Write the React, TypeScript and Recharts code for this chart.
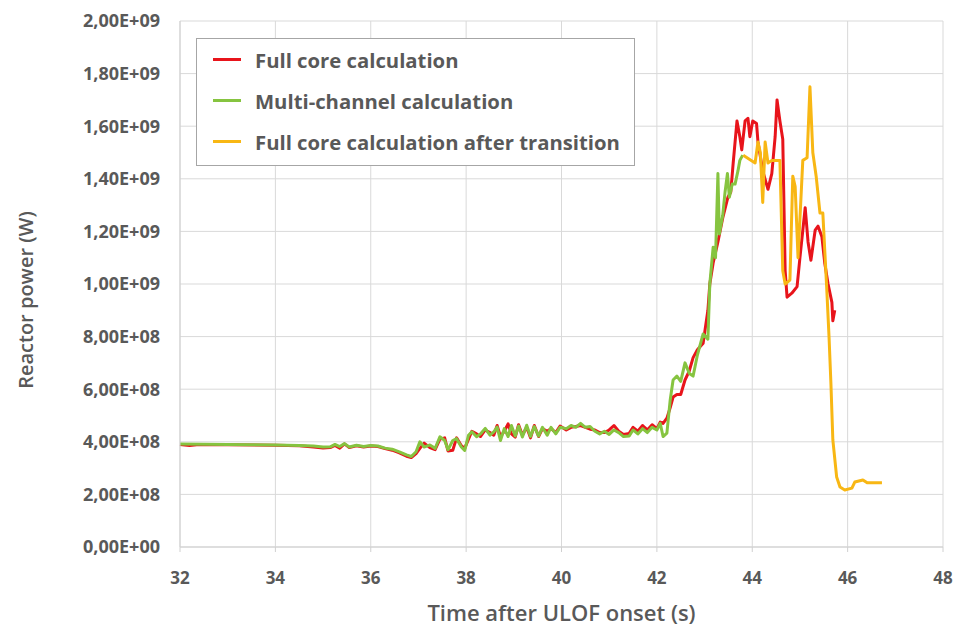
import React from "react";
import {
  LineChart,
  Line,
  XAxis,
  YAxis,
  CartesianGrid,
  Legend,
} from "recharts";

// power values are in units of 1e8 W
const fullCoreTime = [
  32.0, 32.2, 32.4, 33.0, 34.0, 34.5, 34.8, 35.0, 35.15, 35.25, 35.35, 35.45, 35.55, 35.7, 35.85,
  36.0, 36.15, 36.3, 36.45, 36.6, 36.75, 36.85, 36.95, 37.03, 37.12, 37.24, 37.35, 37.45, 37.55,
  37.62, 37.72, 37.8, 37.9, 37.97, 38.05, 38.12, 38.22, 38.3, 38.4, 38.5, 38.58, 38.65, 38.72,
  38.8, 38.88, 38.95, 39.03, 39.1, 39.18, 39.27, 39.35, 39.43, 39.52, 39.6, 39.7, 39.78, 39.88,
  39.97, 40.1, 40.2, 40.3, 40.4, 40.5, 40.6, 40.7, 40.8, 40.9, 41.0, 41.1, 41.2, 41.3, 41.42,
  41.5, 41.6, 41.7, 41.8, 41.9, 42.0, 42.07, 42.13, 42.21, 42.28, 42.34, 42.42, 42.5, 42.59,
  42.68, 42.76, 42.85, 42.97, 43.07, 43.11, 43.18, 43.28, 43.38, 43.49, 43.55, 43.6, 43.68,
  43.74, 43.78, 43.85, 43.91, 43.95, 44.01, 44.09, 44.12, 44.22, 44.33, 44.41, 44.48, 44.52,
  44.58, 44.64, 44.69, 44.73, 44.83, 44.94, 45.0, 45.11, 45.17, 45.23, 45.32, 45.38, 45.46,
  45.52, 45.59, 45.67, 45.69, 45.73,
];
const fullCorePower = [
  3.9, 3.86, 3.9, 3.89, 3.87, 3.85, 3.8, 3.76, 3.78, 3.86, 3.76, 3.92, 3.78, 3.85, 3.8,
  3.84, 3.82, 3.74, 3.68, 3.58, 3.45, 3.4, 3.55, 3.75, 3.95, 3.78, 3.7, 4.1, 4.15,
  3.65, 3.68, 4.15, 3.85, 3.75, 4.1, 4.4, 4.3, 4.2, 4.45, 4.35, 4.25, 4.62, 4.2,
  4.4, 4.68, 4.3, 4.18, 4.65, 4.25, 4.55, 4.15, 4.62, 4.2, 4.5, 4.4, 4.5, 4.35,
  4.6, 4.45, 4.55, 4.58, 4.62, 4.55, 4.48, 4.45, 4.35, 4.35, 4.45, 4.62, 4.4, 4.28, 4.32,
  4.55, 4.4, 4.62, 4.45, 4.65, 4.5, 4.75, 4.7, 4.9, 5.3, 5.7, 5.8, 5.8, 6.35,
  6.7, 7.2, 7.5, 7.75, 9.0, 10.0, 10.8, 11.6, 12.5, 13.3, 13.5, 14.6, 16.2,
  15.6, 15.1, 16.2, 16.3, 15.6, 16.2, 16.1, 15.4, 14.3, 13.6, 14.2, 15.6, 17.0,
  16.2, 15.5, 10.5, 9.5, 9.65, 9.9, 11.0, 12.9, 11.6, 10.9, 12.05, 12.2, 11.8,
  10.8, 10.0, 9.3, 8.6, 9.0,
];

const multiChannelTime = [
  32.0, 32.5, 33.0, 33.5, 34.0, 34.5, 34.8, 35.0, 35.15, 35.25, 35.35, 35.45, 35.55, 35.7, 35.85,
  36.0, 36.15, 36.3, 36.45, 36.6, 36.75, 36.85, 36.95, 37.03, 37.12, 37.24, 37.35, 37.45, 37.55,
  37.62, 37.72, 37.8, 37.9, 37.97, 38.05, 38.12, 38.22, 38.3, 38.4, 38.5, 38.58, 38.65, 38.72,
  38.8, 38.88, 38.95, 39.03, 39.1, 39.18, 39.27, 39.35, 39.43, 39.52, 39.6, 39.7, 39.78, 39.88,
  39.97, 40.1, 40.2, 40.3, 40.4, 40.5, 40.6, 40.7, 40.8, 40.9, 41.0, 41.1, 41.2, 41.3, 41.42,
  41.5, 41.6, 41.7, 41.8, 41.9, 42.0, 42.07, 42.13, 42.21, 42.28, 42.34, 42.42, 42.5, 42.59,
  42.68, 42.76, 42.85, 42.97, 43.07, 43.11, 43.18, 43.23, 43.28, 43.31, 43.38, 43.43, 43.48,
  43.52, 43.58, 43.64, 43.7, 43.74, 43.8,
];
const multiChannelPower = [
  3.92, 3.91, 3.9, 3.89, 3.88, 3.86, 3.84, 3.8, 3.81, 3.9, 3.82, 3.93, 3.8, 3.87, 3.82,
  3.86, 3.84, 3.76, 3.72, 3.62, 3.5, 3.44, 3.62, 4.0, 3.8, 3.88, 3.75, 4.19, 4.05,
  3.7, 4.05, 4.12, 3.8, 3.67, 4.25, 4.38, 4.19, 4.3, 4.51, 4.25, 4.38, 4.56, 4.05,
  4.5, 4.2, 4.62, 4.22, 4.6, 4.18, 4.63, 4.2, 4.58, 4.22, 4.55, 4.25, 4.55, 4.3,
  4.55, 4.5, 4.62, 4.55, 4.7, 4.55, 4.58, 4.4, 4.3, 4.4, 4.28, 4.45, 4.35, 4.2, 4.22,
  4.45, 4.3, 4.5, 4.35, 4.55, 4.45, 4.7, 4.2, 4.33, 5.6, 6.35, 6.5, 6.3, 7.0,
  6.6, 6.5, 7.3, 8.1, 7.9, 10.0, 11.4, 11.0, 14.2, 11.9, 12.6, 13.5, 14.2,
  13.3, 13.8, 13.8, 14.3, 14.7, 14.9,
];

const afterTransitionTime = [
  43.81, 44.06, 44.12, 44.17, 44.22, 44.27, 44.33, 44.41, 44.58, 44.64, 44.69, 44.79, 44.85,
  44.9, 44.96, 45.06, 45.15, 45.21, 45.27, 45.34, 45.42, 45.48, 45.56, 45.61, 45.65, 45.69,
  45.77, 45.84, 45.94, 46.09, 46.15, 46.32, 46.41, 46.72,
];
const afterTransitionPower = [
  14.9, 14.6, 15.4, 15.0, 13.1, 15.4, 14.6, 14.7, 14.7, 10.5, 10.0, 10.15, 14.1,
  13.7, 11.0, 14.7, 14.8, 17.5, 15.0, 14.1, 12.7, 12.7, 9.9, 8.0, 6.2, 4.07,
  2.66, 2.28, 2.17, 2.24, 2.47, 2.55, 2.44, 2.44,
];

const xTicks = [32, 34, 36, 38, 40, 42, 44, 46, 48];
const yTicks = [0, 2e8, 4e8, 6e8, 8e8, 1e9, 1.2e9, 1.4e9, 1.6e9, 1.8e9, 2e9];

const toSeries = (t: number[], p: number[]) => t.map((time, i) => ({ time, power: p[i] * 1e8 }));

const series = [
  { name: "Full core calculation", color: "#E8141B", data: toSeries(fullCoreTime, fullCorePower) },
  { name: "Multi-channel calculation", color: "#86C440", data: toSeries(multiChannelTime, multiChannelPower) },
  { name: "Full core calculation after transition", color: "#F8B714", data: toSeries(afterTransitionTime, afterTransitionPower) },
];

const FONT = "'Open Sans', sans-serif";
const TEXT = "#595959";

// 2e9 -> "2,00E+09"
const sciComma = (v: number) => {
  const [m, e] = v.toExponential(2).split("e");
  const exp = parseInt(e, 10);
  const sign = exp < 0 ? "-" : "+";
  return `${m.replace(".", ",")}E${sign}${String(Math.abs(exp)).padStart(2, "0")}`;
};

const LegendBox = () => (
  <div
    style={{
      border: "1.5px solid #A6A6A6",
      background: "#fff",
      padding: "0px 14px 3px 16px",
      fontFamily: FONT,
      fontWeight: 700,
      fontSize: 20.3,
      color: TEXT,
      whiteSpace: "nowrap",
    }}
  >
    {series.map((s) => (
      <div key={s.name} style={{ display: "flex", alignItems: "center", height: 41 }}>
        <span style={{ display: "inline-block", width: 28, height: 3, background: s.color, marginRight: 14 }} />
        {s.name}
      </div>
    ))}
  </div>
);

export default function App() {
  return (
    <div style={{ position: "absolute", left: 0, top: 0, background: "#fff" }}>
      <LineChart width={959} height={626} margin={{ top: 21, right: 16, bottom: 29, left: 0 }}>
        <CartesianGrid stroke="#D9D9D9" strokeWidth={1} />
        <XAxis
          type="number"
          dataKey="time"
          domain={[32, 48]}
          ticks={xTicks}
          allowDuplicatedCategory={false}
          height={50}
          stroke="#D0D0D0"
          tickSize={5}
          tickMargin={20}
          tick={{ fill: TEXT, fontFamily: FONT, fontWeight: 700, fontSize: 17 }}
          label={{
            value: "Time after ULOF onset (s)",
            position: "bottom",
            offset: 8,
            fill: TEXT,
            fontFamily: FONT,
            fontWeight: 600,
            fontSize: 22,
          }}
        />
        <YAxis
          type="number"
          dataKey="power"
          domain={[0, 2e9]}
          ticks={yTicks}
          width={180}
          stroke="#D0D0D0"
          tickLine={false}
          tickSize={0}
          tickMargin={20}
          tickFormatter={sciComma}
          tick={{ fill: TEXT, fontFamily: FONT, fontWeight: 700, fontSize: 18 }}
          label={{
            content: () => (
              <text
                x={25}
                y={300}
                transform="rotate(-90 25 300)"
                textAnchor="middle"
                dominantBaseline="central"
                fill={TEXT}
                fontFamily={FONT}
                fontWeight={600}
                fontSize={20}
              >
                Reactor power (W)
              </text>
            ),
          }}
        />
        <Legend
          layout="vertical"
          align="center"
          verticalAlign="middle"
          content={() => <LegendBox />}
          wrapperStyle={{ left: 196, top: 38, width: "auto" }}
        />
        {series.map((s) => (
          <Line
            key={s.name}
            data={s.data}
            dataKey="power"
            name={s.name}
            type="linear"
            stroke={s.color}
            strokeWidth={3}
            strokeLinejoin="round"
            dot={false}
            activeDot={false}
            isAnimationActive={false}
          />
        ))}
      </LineChart>
    </div>
  );
}
